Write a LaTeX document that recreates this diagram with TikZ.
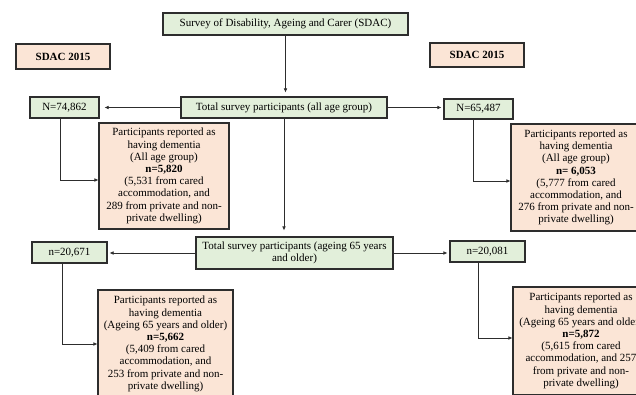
\documentclass[tikz,border=0pt]{standalone}
\usepackage{fontspec}
\setmainfont{Liberation Serif}
\usetikzlibrary{arrows.meta, positioning}
\definecolor{surveycolor}{RGB}{226, 239, 218}
\definecolor{samplecolor}{RGB}{251, 229, 214}
\definecolor{edgecolor}{RGB}{45, 45, 45}
\tikzset{
    greenbox/.style={draw=edgecolor, line width=1.1pt, fill=surveycolor, inner sep=0pt, align=center, font=\fontsize{11}{12.2}\selectfont},
    pinkbox/.style={draw=edgecolor, line width=1.1pt, fill=samplecolor, inner sep=0pt, align=center, font=\fontsize{11}{12.2}\selectfont},
    flow/.style={-{Latex[length=4pt, width=3.5pt]}, line width=0.6pt, draw=edgecolor},
}

\begin{document}
\begin{tikzpicture}[x=1pt, y=-1pt]
    \fill[white] (0,0) rectangle (636,395);
    \useasboundingbox (0,0) rectangle (636,395);

    % Survey
    \node[greenbox, minimum width=245pt, minimum height=22pt] (survey) at (285.5, 24) {Survey of Disability, Ageing and Carer (SDAC)};

    % Wave labels
    \node[pinkbox, minimum width=94pt, minimum height=25pt, font=\fontsize{11}{12.2}\selectfont\bfseries] (sdacL) at (63, 56.5) {SDAC 2015};
    \node[pinkbox, minimum width=94pt, minimum height=24pt, font=\fontsize{11}{12.2}\selectfont\bfseries] (sdacR) at (477, 55) {SDAC 2015};

    % All age group
    \node[greenbox, minimum width=206pt, minimum height=21pt] (total) at (284, 107.5) {Total survey participants (all age group)};
    \node[greenbox, minimum width=69pt, minimum height=21pt] (nL) at (64.5, 107.5) {N=74,862};
    \node[greenbox, minimum width=69pt, minimum height=20pt] (nR) at (478.5, 109) {N=65,487};

    \node[pinkbox, minimum width=130pt, minimum height=106pt] (pL) at (164, 176) {Participants reported as\\having dementia\\(All age group)\\\textbf{n=5,820}\\(5,531 from cared\\accommodation, and\\289 from private and non-\\private dwelling)};
    \node[pinkbox, minimum width=130pt, minimum height=107pt] (pR) at (576, 177.5) {Participants reported as\\having dementia\\(All age group)\\\textbf{n= 6,053}\\(5,777 from cared\\accommodation, and\\276 from private and non-\\private dwelling)};

    % Ageing 65 years and older
    \node[greenbox, minimum width=197pt, minimum height=32pt] (total65) at (294.5, 253) {Total survey participants (ageing 65 years\\and older)};
    \node[greenbox, minimum width=75pt, minimum height=21pt] (n65L) at (69.5, 252.5) {n=20,671};
    \node[greenbox, minimum width=75pt, minimum height=21pt] (n65R) at (487.5, 251.5) {n=20,081};

    \node[pinkbox, minimum width=135pt, minimum height=108pt] (p65L) at (165.5, 344) {Participants reported as\\having dementia\\(Ageing 65 years and older)\\\textbf{n=5,662}\\(5,409 from cared\\accommodation, and\\253 from private and non-\\private dwelling)};
    \node[pinkbox, minimum width=136pt, minimum height=108pt] (p65R) at (581, 341) {Participants reported as\\having dementia\\(Ageing 65 years and older)\\\textbf{n=5,872}\\(5,615 from cared\\accommodation, and 257\\from private and non-\\private dwelling)};

    % Connectors
    \draw[flow, shorten >=4pt] (survey.south) -- (survey.south |- total.north);
    \draw[flow, shorten >=5pt] (total.west) -- (nL.east);
    \draw[flow, shorten >=2pt] (total.east) -- (total.east -| nR.west);
    \draw[flow] ([xshift=-4.5pt]nL.south) |- ([yshift=-4pt]pL.west);
    \draw[flow] ([xshift=-5.5pt]nR.south) |- ([yshift=-3.5pt]pR.west);

    \draw[flow, shorten >=6pt] (total.south) -- (total.south |- total65.north);
    \draw[flow, shorten >=2pt] (total65.west) -- (total65.west -| n65L.east);
    \draw[flow, shorten >=2pt] (total65.east) -- (total65.east -| n65R.west);
    \draw[flow] ([xshift=-7.5pt]n65L.south) |- (p65L.west);
    \draw[flow] ([xshift=-9.5pt]n65R.south) |- ([yshift=3pt]p65R.west);
\end{tikzpicture}
\end{document}
